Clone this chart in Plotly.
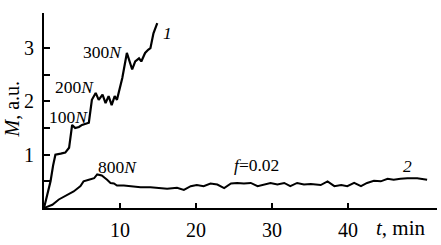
import plotly.graph_objects as go

# Curve 1 (stepwise loading 100N..300N)
t1 = [0, 0.4, 0.86, 1.2, 1.5, 2.2, 2.8, 3.3, 3.7, 4.1, 4.6, 5.0, 5.9, 6.3, 6.8, 7.2, 7.7, 8.1,
      8.5, 8.9, 9.3, 9.6, 10.3, 10.9, 11.6, 12.0, 12.5, 12.8, 13.3, 13.7, 14.0, 14.4, 14.9]
m1 = [0, 0.25, 0.5, 0.8, 1.0, 1.02, 1.04, 1.13, 1.56, 1.5, 1.52, 1.56, 1.6, 2.03, 2.16, 2.03, 2.13, 1.97,
      2.1, 1.93, 2.1, 2.03, 2.44, 2.91, 2.6, 2.75, 2.81, 2.75, 2.91, 2.97, 3.0, 3.28, 3.47]

# Curve 2 (800N, f = 0.02)
t2 = [0, 1.1, 1.95, 2.8, 3.5, 3.9, 4.8, 5.2, 5.9, 6.6, 7.0, 7.6, 8.3, 8.75, 9.2, 9.6, 10.5, 11.4,
      12.7, 14.0, 14.9, 16.2, 17.5, 18.4, 19.3, 20.1, 21.0, 21.9, 22.8, 23.7, 24.6, 25.4, 26.3, 27.2,
      28.1, 28.9, 29.8, 30.7, 31.6, 32.4, 33.3, 34.2, 35.1, 36.4, 37.3, 38.2, 39.1, 39.9, 40.8, 41.7,
      42.5, 43.4, 44.3, 45.2, 46.0, 46.9, 47.8, 49.1, 50.4]
m2 = [0, 0.06, 0.16, 0.22, 0.28, 0.31, 0.41, 0.5, 0.53, 0.56, 0.63, 0.61, 0.53, 0.47, 0.46, 0.42, 0.42, 0.41,
      0.39, 0.39, 0.375, 0.36, 0.38, 0.34, 0.41, 0.43, 0.41, 0.46, 0.44, 0.375, 0.46, 0.47, 0.46, 0.47,
      0.41, 0.44, 0.47, 0.44, 0.47, 0.41, 0.47, 0.44, 0.45, 0.43, 0.5, 0.41, 0.43, 0.41, 0.47, 0.41,
      0.47, 0.51, 0.5, 0.55, 0.53, 0.55, 0.56, 0.56, 0.53]

x_ticks = [10, 20, 30, 40]
y_ticks = [1, 2, 3]

# Text labels: (text, t, M)
labels = [
    ("100<i>N</i>", 3.2, 1.7),
    ("200<i>N</i>", 4.0, 2.27),
    ("300<i>N</i>", 7.7, 2.93),
    ("<i>1</i>", 16.2, 3.28),
    ("800<i>N</i>", 9.7, 0.77),
    ("<i>f</i>=0.02", 28.0, 0.81),
    ("<i>2</i>", 47.8, 0.79),
]

FONT = "Liberation Serif"

fig = go.Figure()
fig.add_trace(go.Scatter(x=t1, y=m1, mode="lines", line=dict(color="black", width=2.2)))
fig.add_trace(go.Scatter(x=t2, y=m2, mode="lines", line=dict(color="black", width=2)))

for txt, x, y in labels:
    fig.add_annotation(x=x, y=y, text=txt, showarrow=False, xref="x", yref="y",
                       xanchor="center", yanchor="middle",
                       font=dict(family=FONT, size=17.5, color="black"))

# x-axis title placed at the position of the 50 tick, below the axis
fig.add_annotation(x=46.9, y=-20 / 195, text="<i>t</i>, min", showarrow=False, xref="x", yref="paper",
                   xanchor="center", yanchor="middle",
                   font=dict(family=FONT, size=21, color="black"))
# y-axis title
fig.add_annotation(x=-32 / 393, y=1.85, text="<i>M</i>, a.u.", showarrow=False, xref="paper", yref="y",
                   xanchor="center", yanchor="middle",
                   textangle=-90, font=dict(family=FONT, size=20, color="black"))

fig.update_layout(
    width=441, height=245,
    margin=dict(l=44, r=4, t=13, b=37, autoexpand=False),
    paper_bgcolor="white", plot_bgcolor="white",
    showlegend=False,
    font=dict(family=FONT, size=20, color="black"),
)
fig.update_xaxes(range=[0, 51.7], tickvals=x_ticks, ticks="inside", ticklen=5, tickwidth=1.5,
                 tickcolor="black", showline=True, linecolor="black", linewidth=2, showgrid=False,
                 zeroline=False, ticklabelstandoff=3)
fig.update_yaxes(range=[0, 3.66], tickvals=y_ticks, ticks="inside", ticklen=6, tickwidth=1.5,
                 tickcolor="black", showline=True, linecolor="black", linewidth=2, showgrid=False,
                 zeroline=False, ticklabelstandoff=4,
                 minor=dict(tickvals=[0.5, 1.5, 2.5], ticks="inside", ticklen=6, tickwidth=1.5,
                            tickcolor="black"))

fig.write_html("out.html", config={"displayModeBar": False},
               post_script="document.body.style.margin='0';")
